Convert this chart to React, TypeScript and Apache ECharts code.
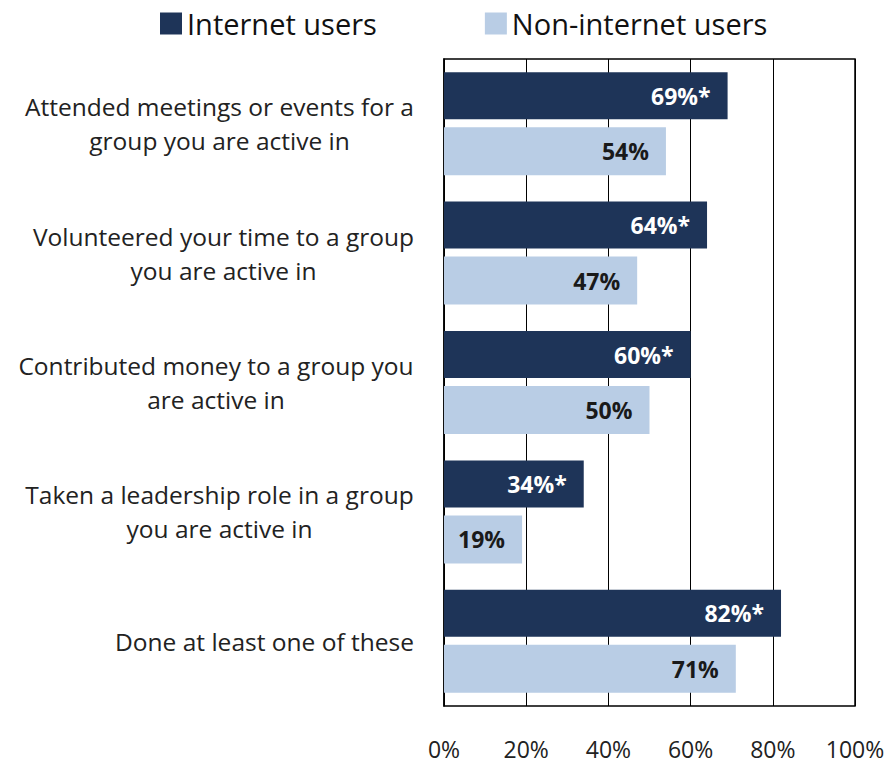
import React, { useEffect, useRef } from "react";
import * as echarts from "echarts";

const categories = [
  "Attended meetings or events for a\ngroup you are active in",
  "Volunteered your time to a group\nyou are active in",
  "Contributed money to a group you\nare active in",
  "Taken a leadership role in a group\nyou are active in",
  "Done at least one of these",
];
const internetUsers = [69, 64, 60, 34, 82];
const nonInternetUsers = [54, 47, 50, 19, 71];
const internetMarks = ["*", "*", "*", "*", "*"];
const xTicks = [0, 20, 40, 60, 80, 100];

const FONT = '"Open Sans", sans-serif';
const CAT_SIZE = 24.5;

function measure(text: string, size: number): number {
  const c = document.createElement("canvas");
  const ctx = c.getContext("2d");
  if (!ctx) return text.length * size * 0.5;
  ctx.font = `${size}px "Open Sans"`;
  return ctx.measureText(text).width;
}

export default function App() {
  const ref = useRef<HTMLDivElement>(null);
  useEffect(() => {
    if (!ref.current) return;
    const chart = echarts.init(ref.current, null, { renderer: "svg" });
    const rich: Record<string, any> = {};
    categories.forEach((c, i) => {
      const w = Math.max(...c.split("\n").map((l) => measure(l, CAT_SIZE)));
      rich["r" + i] = {
        width: Math.ceil(w) + 2,
        align: "center",
        fontSize: CAT_SIZE,
        fontFamily: FONT,
        color: "#222",
        lineHeight: 34,
      };
    });
    chart.setOption({
      animation: false,
      backgroundColor: "#ffffff",
      legend: {
        top: 4,
        left: 155,
        itemWidth: 22,
        itemHeight: 22,
        itemGap: 108,
        icon: "rect",
        textStyle: { fontSize: 29, fontFamily: FONT, color: "#111" },
        data: ["Internet users", "Non-internet users"],
      },
      grid: {
        left: 444,
        right: 36,
        top: 59,
        bottom: 61,
        show: true,
        borderColor: "#000",
        borderWidth: 1.5,
      },
      xAxis: {
        type: "value",
        min: xTicks[0],
        max: xTicks[xTicks.length - 1],
        interval: 20,
        axisLine: { show: false },
        axisTick: { show: false },
        splitLine: { show: true, lineStyle: { color: "#000", width: 1 } },
        axisLabel: {
          formatter: "{value}%",
          fontSize: 23,
          fontFamily: FONT,
          color: "#222",
          margin: 31,
        },
      },
      yAxis: {
        type: "category",
        inverse: true,
        data: categories,
        axisLine: { show: true, lineStyle: { color: "#000", width: 1.5 } },
        axisTick: { show: false },
        axisLabel: {
          margin: 29,
          align: "right",
          formatter: (v: string, i: number) =>
            v
              .split("\n")
              .map((l) => `{r${i}|${l}}`)
              .join("\n"),
          rich,
        },
      },
      series: [
        {
          name: "Internet users",
          type: "bar",
          data: internetUsers,
          barWidth: 47,
          barGap: "17%",
          barCategoryGap: "21%",
          itemStyle: { color: "#1e3458" },
          label: {
            show: true,
            position: "insideRight",
            distance: 17,
            formatter: (p: any) => `${p.value}%${internetMarks[p.dataIndex]}`,
            color: "#ffffff",
            fontWeight: "bold",
            fontSize: 23,
            fontFamily: FONT,
          },
        },
        {
          name: "Non-internet users",
          type: "bar",
          data: nonInternetUsers,
          barWidth: 48,
          itemStyle: { color: "#b9cde5" },
          label: {
            show: true,
            position: "insideRight",
            distance: 17,
            formatter: "{c}%",
            color: "#1a1a1a",
            fontWeight: "bold",
            fontSize: 23,
            fontFamily: FONT,
          },
        },
      ],
    });
    return () => chart.dispose();
  }, []);
  return (
    <div
      ref={ref}
      style={{ position: "fixed", left: 0, top: 0, width: 891, height: 767 }}
    />
  );
}
